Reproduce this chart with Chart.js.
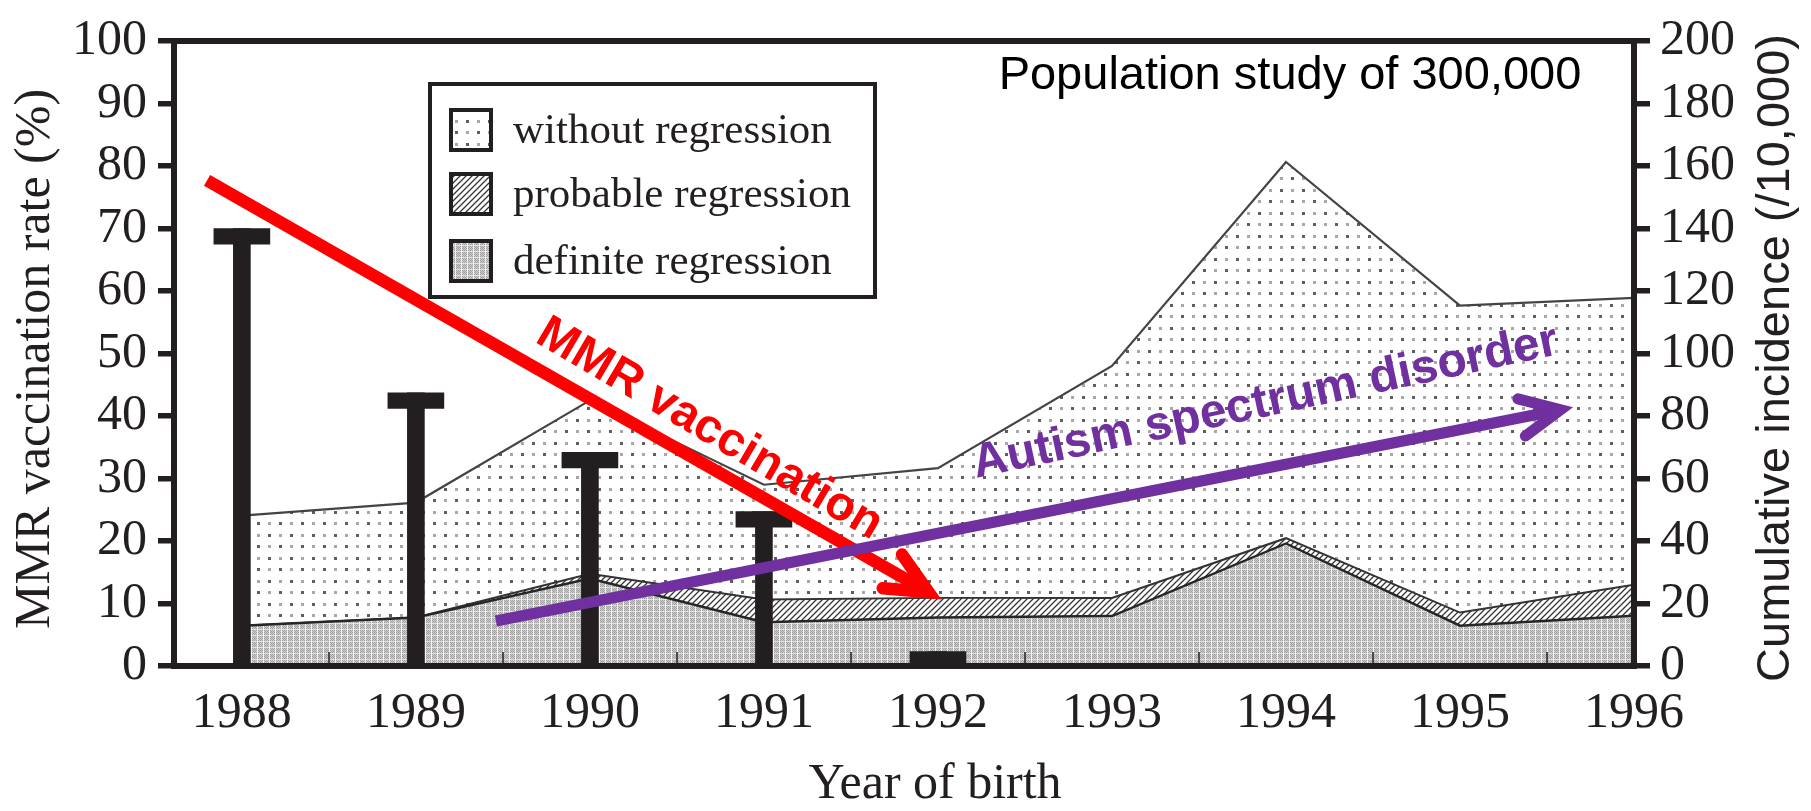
<!DOCTYPE html>
<html><head><meta charset="utf-8">
<script src="https://cdn.jsdelivr.net/npm/chart.js@4.4.0/dist/chart.umd.min.js"></script>
<style>html,body{margin:0;padding:0;background:#fff;}canvas{display:block;}</style>
</head><body>
<canvas id="c" width="1811" height="811"></canvas>
<script>
// ---- data ----
const years = [1988, 1989, 1990, 1991, 1992, 1993, 1994, 1995, 1996];
const mmrYears = [1988, 1989, 1990, 1991, 1992];
const mmrRate = [70.0, 43.7, 34.2, 24.7, 2.3];                 // % (left axis)
// cumulative incidence (/10,000), stacked bands (right axis)
const definiteRegression = [12.9, 15.5, 28.0, 14.0, 15.5, 16.0, 39.2, 12.9, 16.1];
const probableRegression = [0.0, 0.0, 1.5, 7.3, 6.3, 5.8, 1.7, 4.2, 9.9];
const withoutRegression  = [35.2, 36.8, 55.5, 36.7, 41.5, 74.2, 120.4, 98.2, 91.8];
const leftTicks = [0, 10, 20, 30, 40, 50, 60, 70, 80, 90, 100];
const rightTicks = [0, 20, 40, 60, 80, 100, 120, 140, 160, 180, 200];
// annotation arrows in data units (x = year, y = left axis %)
const mmrArrowX = [1987.80, 1992.02];
const mmrArrowY = [77.7, 10.66];
const asdArrowX = [1989.46, 1995.65];
const asdArrowY = [7.2, 41.4];
const mmrLabelAt = [1990.687, 37.87];
const asdLabelAt = [1993.882, 42.08];
const legendLabels = ['without regression', 'probable regression', 'definite regression'];

const INK = '#231f20';
const CAP = 2.5; // cap depth of the T-bars, in % units

function makePattern(w, h, painter) {
  const c = document.createElement('canvas'); c.width = w; c.height = h;
  const g = c.getContext('2d'); painter(g, w, h);
  return g.createPattern(c, 'repeat');
}
const patDots = makePattern(22, 23, g => {
  g.fillStyle = '#fff'; g.fillRect(0, 0, 22, 23);
  g.fillStyle = '#5e5e5e'; g.fillRect(4, 5, 3, 3); g.fillRect(15, 16, 3, 3);
  g.fillStyle = '#a8a8a8'; g.fillRect(15, 5, 3, 3); g.fillRect(4, 16, 3, 3);
});
const patHatch = makePattern(6, 6, g => {
  for (let x = 0; x < 6; x++) for (let y = 0; y < 6; y++) {
    const k = (x + y) % 6;
    g.fillStyle = k === 5 ? '#333' : (k === 4 || k === 0) ? '#a8a8a8' : '#fff';
    g.fillRect(x, y, 1, 1);
  }
});
const patGrid = makePattern(6, 6, g => {
  for (let x = 0; x < 6; x++) for (let y = 0; y < 6; y++) {
    let c;
    if (x === 5) c = '#f4f4f4';
    else if (y === 5) c = '#e0e0e0';
    else c = (x + y) % 2 === 0 ? '#a2a2a2' : '#cccccc';
    g.fillStyle = c; g.fillRect(x, y, 1, 1);
  }
});

const pts = arr => years.map((x, i) => ({x, y: arr[i]}));

function drawArrow(ctx, p0, p1, color, width, headLen, headAng) {
  const ang = Math.atan2(p1.y - p0.y, p1.x - p0.x);
  const back = (width / 2) / Math.sin(headAng);
  const v = {x: p1.x - back * Math.cos(ang), y: p1.y - back * Math.sin(ang)};
  ctx.save();
  ctx.strokeStyle = color; ctx.lineWidth = width;
  ctx.lineCap = 'butt';
  ctx.beginPath(); ctx.moveTo(p0.x, p0.y);
  ctx.lineTo(v.x - 4 * Math.cos(ang), v.y - 4 * Math.sin(ang)); ctx.stroke();
  ctx.lineCap = 'round'; ctx.lineJoin = 'miter'; ctx.miterLimit = 10;
  ctx.beginPath();
  ctx.moveTo(v.x - headLen * Math.cos(ang - headAng), v.y - headLen * Math.sin(ang - headAng));
  ctx.lineTo(v.x, v.y);
  ctx.lineTo(v.x - headLen * Math.cos(ang + headAng), v.y - headLen * Math.sin(ang + headAng));
  ctx.stroke();
  ctx.restore();
}
function rotText(ctx, text, x, y, ang, font, color, baseline) {
  ctx.save(); ctx.translate(x, y); ctx.rotate(ang);
  ctx.font = font; ctx.fillStyle = color; ctx.textAlign = 'center';
  ctx.textBaseline = baseline || 'middle'; ctx.fillText(text, 0, 0); ctx.restore();
}

const overlay = {
  id: 'overlay',
  afterDraw(chart) {
    const {ctx, chartArea: a, scales: {x, y}} = chart;
    // plot frame
    ctx.save(); ctx.strokeStyle = INK; ctx.lineWidth = 6;
    ctx.strokeRect(a.left, a.top, a.right - a.left, a.bottom - a.top); ctx.restore();
    // arrows
    const P = (xs, ys, i) => ({x: x.getPixelForValue(xs[i]), y: y.getPixelForValue(ys[i])});
    drawArrow(ctx, P(mmrArrowX, mmrArrowY, 0), P(mmrArrowX, mmrArrowY, 1), '#ff0000', 12.5, 46, 25 * Math.PI / 180);
    drawArrow(ctx, P(asdArrowX, asdArrowY, 0), P(asdArrowX, asdArrowY, 1), '#7030a0', 11, 44, 25.5 * Math.PI / 180);
    rotText(ctx, 'MMR vaccination', x.getPixelForValue(mmrLabelAt[0]), y.getPixelForValue(mmrLabelAt[1]),
      30.5 * Math.PI / 180, 'bold 48px "Liberation Sans", Arial, sans-serif', '#ff0000');
    rotText(ctx, 'Autism spectrum disorder', x.getPixelForValue(asdLabelAt[0]), y.getPixelForValue(asdLabelAt[1]),
      -12 * Math.PI / 180, 'bold 48px "Liberation Sans", Arial, sans-serif', '#7030a0');
    // inset text
    ctx.save(); ctx.font = '47px "Liberation Sans", Arial, sans-serif'; ctx.fillStyle = '#000';
    ctx.textAlign = 'center'; ctx.textBaseline = 'alphabetic';
    ctx.fillText('Population study of 300,000', 1290, 89); ctx.restore();
    // legend
    ctx.save();
    ctx.strokeStyle = INK; ctx.lineWidth = 4;
    ctx.fillStyle = '#fff'; ctx.fillRect(430, 84, 445, 213);
    ctx.strokeRect(430, 84, 445, 213);
    const pats = [patDots, patHatch, patGrid];
    const rowsY = [130, 194, 261];
    ctx.font = '43px "Liberation Serif", "Times New Roman", serif';
    ctx.textAlign = 'left'; ctx.textBaseline = 'alphabetic';
    for (let i = 0; i < 3; i++) {
      ctx.fillStyle = pats[i]; ctx.fillRect(451, rowsY[i] - 20, 40, 40);
      ctx.lineWidth = 4; ctx.strokeStyle = INK; ctx.strokeRect(451, rowsY[i] - 20, 40, 40);
      ctx.fillStyle = INK; ctx.fillText(legendLabels[i], 513, rowsY[i] + 13);
    }
    ctx.restore();
    // axis titles
    rotText(ctx, 'MMR vaccination rate (%)', 36, 359, -Math.PI / 2, '50px "Liberation Serif", serif', INK);
    rotText(ctx, 'Cumulative incidence (/10,000)', 1789, 358, -Math.PI / 2, '47px "Liberation Sans", Arial, sans-serif', INK, 'alphabetic');
    rotText(ctx, 'Year of birth', 935, 785, 0, '50px "Liberation Serif", serif', INK);
  }
};

function build() {
  const serif = "'Liberation Serif', 'Times New Roman', serif";
  new Chart(document.getElementById('c'), {
    type: 'line',
    data: {
      datasets: [
        {label: 'definite regression', data: pts(definiteRegression), yAxisID: 'y2', fill: 'origin',
         backgroundColor: patGrid, borderColor: '#262626', borderWidth: 2.4, pointRadius: 0, tension: 0, order: 10},
        {label: 'probable regression', data: pts(probableRegression), yAxisID: 'y2', fill: '-1',
         backgroundColor: patHatch, borderColor: '#333', borderWidth: 2, pointRadius: 0, tension: 0, order: 10},
        {label: 'without regression', data: pts(withoutRegression), yAxisID: 'y2', fill: '-1',
         backgroundColor: patDots, borderColor: '#444', borderWidth: 2.2, pointRadius: 0, tension: 0, order: 10},
        {type: 'bar', label: 'MMR vaccination rate', data: mmrYears.map((x, i) => ({x, y: mmrRate[i]})),
         yAxisID: 'y', backgroundColor: INK, borderWidth: 0, barThickness: 17, grouped: false, order: 1},
        {type: 'bar', label: 'cap', data: mmrYears.map((x, i) => ({x, y: [Math.max(0, mmrRate[i] - CAP), mmrRate[i]]})),
         yAxisID: 'y', backgroundColor: INK, borderWidth: 0, barThickness: 56, grouped: false, order: 0}
      ]
    },
    options: {
      responsive: false, animation: false, devicePixelRatio: 1, events: [],
      layout: {padding: {top: 31, left: 0, right: 0, bottom: 0}},
      plugins: {legend: {display: false}, tooltip: {enabled: false}, title: {display: false}},
      scales: {
        x: {type: 'linear', position: 'bottom', min: 1987.61, max: 1996, offset: false,
            afterBuildTicks: s => { s.ticks = years.map(v => ({value: v})); },
            afterFit: s => { s.height = 145; },
            border: {display: false},
            grid: {display: true, drawOnChartArea: false, drawTicks: true, tickLength: -14, lineWidth: 2, color: '#4a4a4a', z: 1},
            ticks: {padding: 32, autoSkip: false, maxRotation: 0, color: INK,
                    font: {family: serif, size: 50}, callback: v => String(v)}},
        y: {type: 'linear', position: 'left', min: 0, max: 100, stacked: false,
            afterBuildTicks: s => { s.ticks = leftTicks.map(v => ({value: v})); },
            afterFit: s => { s.width = 174; },
            border: {display: false},
            grid: {drawOnChartArea: false, drawTicks: true, tickLength: 16, lineWidth: 5.5, color: INK},
            ticks: {padding: 11, autoSkip: false, color: INK, font: {family: serif, size: 50}, callback: v => String(v)}},
        y2: {type: 'linear', position: 'right', min: 0, max: 200, stacked: true,
            afterBuildTicks: s => { s.ticks = rightTicks.map(v => ({value: v})); },
            afterFit: s => { s.width = 177; },
            border: {display: false},
            grid: {drawOnChartArea: false, drawTicks: true, tickLength: 16, lineWidth: 5.5, color: INK},
            ticks: {padding: 10, autoSkip: false, color: INK, font: {family: serif, size: 50}, callback: v => String(v)}}
      }
    },
    plugins: [overlay]
  });
}
const fontsReady = document.fonts ? Promise.all([
  document.fonts.load('50px "Liberation Serif"'),
  document.fonts.load('47px "Liberation Sans"'),
  document.fonts.load('bold 48px "Liberation Sans"')
]).catch(() => {}) : Promise.resolve();
fontsReady.then(build);
</script>
</body></html>
